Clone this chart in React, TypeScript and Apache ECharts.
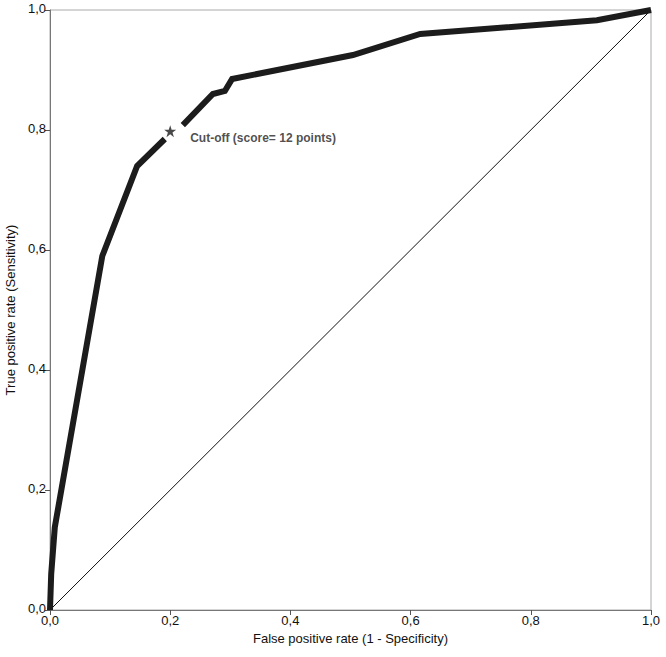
import React, { useEffect, useRef } from "react";
import * as echarts from "echarts";

const rocFpr: (number | null)[] = [0, 0.002, 0.008, 0.087, 0.145, 0.191, null, 0.221, 0.271, 0.291, 0.303, 0.504, 0.616, 0.91, 1.0];
const rocTpr: (number | null)[] = [0, 0.06, 0.138, 0.59, 0.74, 0.785, null, 0.808, 0.86, 0.865, 0.885, 0.925, 0.96, 0.983, 1.0];
const diagonal: number[][] = [[0, 0], [1, 1]];
const cutoff: number[] = [0.2, 0.798];
const cutoffLabel = "Cut-off (score= 12 points)";
const xName = "False positive rate (1 - Specificity)";
const yName = "True positive rate (Sensitivity)";

const starPath =
  "path://M50,0 L61.8,35.1 L98.9,35.1 L68.9,56.8 L80.3,91.9 L50,70.2 L19.7,91.9 L31.1,56.8 L1.1,35.1 L38.2,35.1 Z";

export default function App() {
  const ref = useRef<HTMLDivElement>(null);
  useEffect(() => {
    const chart = echarts.init(ref.current!, null, { renderer: "svg" });
    const fmt = (v: number) => v.toFixed(1).replace(".", ",");
    const rocData = rocFpr.map((x, i) => (x === null ? [null, null] : [x, rocTpr[i]]));
    chart.setOption({
      animation: false,
      textStyle: { fontFamily: "Liberation Sans, Arial, sans-serif" },
      grid: {
        left: 50,
        right: 15,
        top: 10,
        bottom: 47,
        outerBoundsMode: "none",
        containLabel: false,
        show: true,
        borderColor: "#aaa",
        borderWidth: 1,
      },
      xAxis: {
        type: "value",
        min: 0,
        max: 1,
        interval: 0.2,
        name: xName,
        nameLocation: "middle",
        nameGap: 20,
        nameTextStyle: { fontSize: 13, color: "#111" },
        axisLine: { lineStyle: { color: "#777" } },
        axisTick: { show: true, length: 5, lineStyle: { color: "#555" } },
        axisLabel: { formatter: fmt, fontSize: 13, color: "#111", margin: 4 },
        splitLine: { show: false },
      },
      yAxis: {
        type: "value",
        min: 0,
        max: 1,
        interval: 0.2,
        name: yName,
        nameLocation: "middle",
        nameGap: 29,
        nameTextStyle: { fontSize: 13, color: "#111" },
        axisLine: { show: true, lineStyle: { color: "#777" } },
        axisTick: { show: true, length: 5, lineStyle: { color: "#555" } },
        axisLabel: {
          formatter: fmt,
          fontSize: 13,
          color: "#111",
          margin: 4,
          verticalAlign: "bottom",
          padding: [0, 0, -5, 0],
        },
        splitLine: { show: false },
      },
      series: [
        {
          type: "line",
          data: diagonal,
          symbol: "none",
          lineStyle: { color: "#111", width: 1 },
          silent: true,
        },
        {
          type: "line",
          data: rocData,
          symbol: "none",
          connectNulls: false,
          lineStyle: { color: "#1c1c1c", width: 6, join: "miter" },
          silent: true,
        },
        {
          type: "scatter",
          data: [cutoff],
          symbol: starPath,
          symbolSize: 12,
          itemStyle: { color: "#1c1c1c" },
          label: {
            show: true,
            position: "right",
            distance: 14,
            formatter: cutoffLabel,
            fontSize: 12,
            fontWeight: "bold",
            color: "#222",
            offset: [0, 7],
          },
          silent: true,
        },
      ],
    });
    return () => chart.dispose();
  }, []);
  return <div ref={ref} style={{ position: "absolute", left: 0, top: 0, width: 666, height: 657 }} />;
}
